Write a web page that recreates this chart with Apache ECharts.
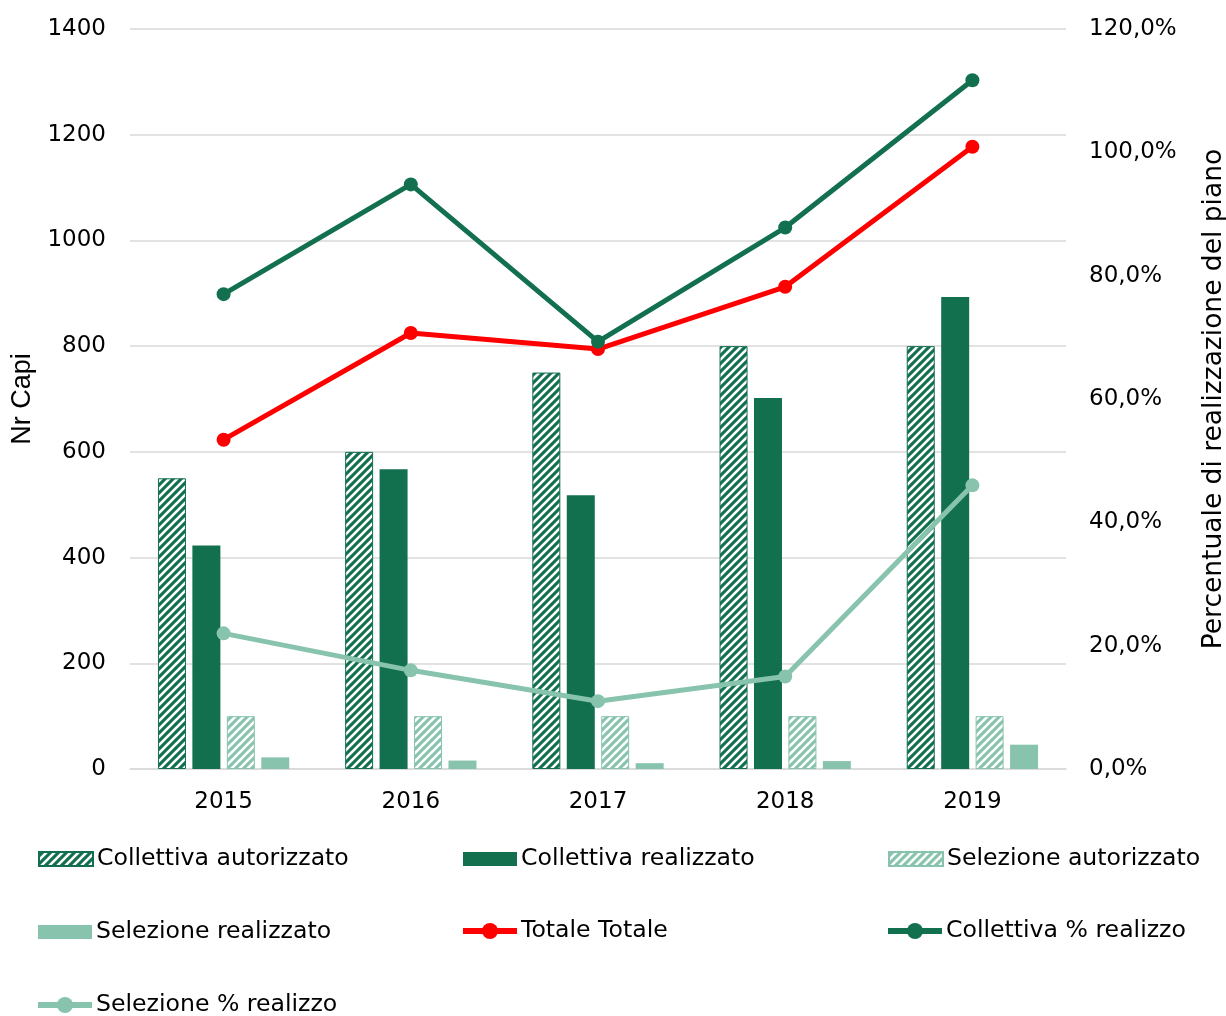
<!DOCTYPE html>
<html><head><meta charset="utf-8">
<script src="https://cdn.jsdelivr.net/npm/echarts@6/dist/echarts.min.js"></script>
<style>html,body{margin:0;padding:0;background:#fff}#c{width:1226px;height:1016px}</style>
</head><body><div id="c"></div>
<script>
const years = ['2015','2016','2017','2018','2019'];
const collAut = [550, 600, 750, 800, 800];
const collReal = [423, 567, 518, 702, 893];
const selAut = [100, 100, 100, 100, 100];
const selReal = [22, 16, 11, 15, 46];
const totPct = [53.4, 70.7, 68.1, 78.2, 100.9];
const collPct = [77.0, 94.8, 69.3, 87.8, 111.7];
const selPct = [22.0, 16.0, 11.0, 15.0, 46.0];

const DARK = '#12704f', LIGHT = '#88c4ad', RED = '#ff0000';
function hatch(bg) {
  const c = document.createElement('canvas'); c.width = 8; c.height = 8;
  const g = c.getContext('2d');
  g.fillStyle = bg; g.fillRect(0,0,8,8);
  g.strokeStyle = '#fff'; g.lineWidth = 2.6;
  [[-4,4,4,-4],[0,8,8,0],[4,12,12,4]].forEach(l=>{g.beginPath();g.moveTo(l[0],l[1]);g.lineTo(l[2],l[3]);g.stroke();});
  return {image: c, repeat: 'repeat'};
}
const F = 'DejaVu Sans';
const FS = 23;
const chart = echarts.init(document.getElementById('c'));
const names = ['Collettiva autorizzato','Collettiva realizzato','Selezione autorizzato','Selezione realizzato','Totale Totale','Collettiva % realizzo','Selezione % realizzo'];
const legPos = [[38,847],[463,847],[888,847],[38,920],[463,920],[888,920],[38,994]];
const legends = names.map((n,i)=>{
  const isLine = i >= 4;
  const o = {
    left: isLine ? legPos[i][0] - 3 : legPos[i][0], top: isLine ? legPos[i][1] - 1 : legPos[i][1], padding: 0, data:[n], itemWidth: 54, itemHeight: isLine ? 20 : 14, itemGap: 4,
    textStyle:{fontFamily:F, fontSize:23.6, color:'#000', padding:[0,0,0,-1]}, selectedMode:false
  };
  if (isLine) { o.lineStyle = {width: 6}; } else { o.icon = 'rect'; }
  return o;
});
chart.setOption({
  animation: false,
  legend: legends,
  grid: {left: 130, right: 160, top: 29, bottom: 247, containLabel:false, outerBoundsMode:'none'},
  xAxis: {type:'category', data: years, axisTick:{show:false},
    axisLine:{lineStyle:{color:'#d9d9d9', width:1.5}},
    axisLabel:{fontFamily:F, fontSize:FS, color:'#000', margin:22}},
  yAxis: [
    {type:'value', min:0, max:1400, interval:200, name:'Nr Capi', nameLocation:'middle', nameGap:94, nameRotate:90,
     nameTextStyle:{fontFamily:'Liberation Sans', fontSize:27, color:'#000'},
     axisLabel:{fontFamily:F, fontSize:FS, color:'#000', margin:24, formatter: v=>String(v)},
     splitLine:{lineStyle:{color:'#d9d9d9', width:1.5}}},
    {type:'value', min:0, max:120, interval:20, position:'right', name:'Percentuale di realizzazione del piano', nameLocation:'middle', nameGap:135, nameRotate:90,
     nameTextStyle:{fontFamily:F, fontSize:26.5, color:'#000'},
     axisLabel:{fontFamily:F, fontSize:FS, color:'#000', margin:23, formatter: v=>v.toFixed(1).replace('.',',')+'%'},
     splitLine:{show:false}}
  ],
  series: [
    {name:names[0], type:'bar', data:collAut, barWidth:28, barGap:'23%', itemStyle:{color:hatch(DARK), borderColor:DARK, borderWidth:1}},
    {name:names[1], type:'bar', data:collReal, barWidth:28, barGap:'23%', itemStyle:{color:DARK}},
    {name:names[2], type:'bar', data:selAut, barWidth:28, barGap:'23%', itemStyle:{color:hatch(LIGHT), borderColor:LIGHT, borderWidth:1}},
    {name:names[3], type:'bar', data:selReal, barWidth:28, barGap:'23%', itemStyle:{color:LIGHT}},
    {name:names[4], type:'line', yAxisIndex:1, data:totPct, symbol:'circle', symbolSize:14, lineStyle:{color:RED, width:5}, itemStyle:{color:RED}},
    {name:names[5], type:'line', yAxisIndex:1, data:collPct, symbol:'circle', symbolSize:14, lineStyle:{color:DARK, width:5}, itemStyle:{color:DARK}},
    {name:names[6], type:'line', yAxisIndex:1, data:selPct, symbol:'circle', symbolSize:14, lineStyle:{color:LIGHT, width:5}, itemStyle:{color:LIGHT}}
  ]
});
</script></body></html>
